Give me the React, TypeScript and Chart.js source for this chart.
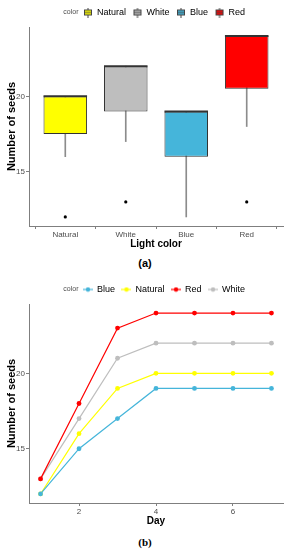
import React, { useEffect, useRef } from "react";
import { Chart, registerables } from "chart.js";
Chart.register(...registerables);

// ---------- data: panel (a) box plot ----------
const categories = ["Natural", "White", "Blue", "Red"];
const boxColors = ["#ffff00", "#bebebe", "#45b5da", "#ff0000"];
const q1 = [17.5, 19, 16, 20.5];
const medians = [20, 22, 19, 24];
const q3 = [20, 22, 19, 24];
const whiskerLow = [16, 17, 12, 18];
const whiskerHigh = [20, 22, 19, 24];
const outliers: (number | null)[] = [12, 13, null, 13];
const seedTicks = [15, 20];

// ---------- data: panel (b) line chart ----------
const days = [1, 2, 3, 4, 5, 6, 7];
const seriesNames = ["Blue", "Natural", "Red", "White"];
const blueSeeds = [12, 15, 17, 19, 19, 19, 19];
const naturalSeeds = [12, 16, 19, 20, 20, 20, 20];
const redSeeds = [13, 18, 23, 24, 24, 24, 24];
const whiteSeeds = [13, 17, 21, 22, 22, 22, 22];
const lineColors = ["#45b5da", "#ffff00", "#ff0000", "#bebebe"];
const dayTicks = [2, 4, 6];

const legendTitle = "color";
const FONT = "'Liberation Sans', Arial, sans-serif";

function boxIcon(fill: string) {
  const c = document.createElement("canvas");
  c.width = 10;
  c.height = 10;
  const x = c.getContext("2d")!;
  x.strokeStyle = "#444";
  x.lineWidth = 1;
  x.beginPath();
  x.moveTo(5, 0);
  x.lineTo(5, 10);
  x.stroke();
  x.fillStyle = fill;
  x.fillRect(1, 2, 8, 6);
  x.strokeRect(1.5, 2.5, 7, 5);
  x.beginPath();
  x.moveTo(1, 5);
  x.lineTo(9, 5);
  x.stroke();
  return c;
}

function lineIcon(col: string) {
  const c = document.createElement("canvas");
  c.width = 10;
  c.height = 6;
  const x = c.getContext("2d")!;
  x.strokeStyle = col;
  x.lineWidth = 1.2;
  x.beginPath();
  x.moveTo(0, 3);
  x.lineTo(10, 3);
  x.stroke();
  x.fillStyle = col;
  x.beginPath();
  x.arc(5, 3, 2.2, 0, Math.PI * 2);
  x.fill();
  return c;
}

function blankIcon() {
  const c = document.createElement("canvas");
  c.width = 1;
  c.height = 1;
  return c;
}

const colorLabelPlugin = {
  id: "colorLabel",
  afterDraw(chart: any) {
    const lg = chart.legend;
    if (!lg || !lg.legendHitBoxes || !lg.legendHitBoxes.length) return;
    const hb = lg.legendHitBoxes[0];
    const ctx = chart.ctx;
    ctx.save();
    ctx.font = `7px ${FONT}`;
    ctx.fillStyle = "#4d4d4d";
    ctx.textAlign = "right";
    ctx.textBaseline = "middle";
    ctx.fillText(legendTitle, hb.left + hb.width + 2, hb.top + hb.height / 2);
    ctx.restore();
  },
};

const medianPlugin = {
  id: "medianLine",
  afterDatasetsDraw(chart: any) {
    const meta = chart.getDatasetMeta(1);
    const y = chart.scales.y;
    const ctx = chart.ctx;
    ctx.save();
    ctx.strokeStyle = "#333";
    ctx.lineWidth = 2;
    meta.data.forEach((el: any, i: number) => {
      const py = y.getPixelForValue(medians[i]);
      ctx.beginPath();
      ctx.moveTo(el.x - el.width / 2, py);
      ctx.lineTo(el.x + el.width / 2, py);
      ctx.stroke();
    });
    ctx.restore();
  },
};

const axisColor = "#7f7f7f";
const tickFont = { family: FONT, size: 8 };

function commonY(title: string) {
  return {
    type: "linear",
    min: 11.4,
    max: 24.6,
    afterBuildTicks: (s: any) => {
      s.ticks = seedTicks.map((v) => ({ value: v }));
    },
    afterFit: (s: any) => {
      s.width = 29;
    },
    ticks: { font: tickFont, color: "#4d4d4d", padding: 1 },
    grid: { drawOnChartArea: false, tickLength: 3, color: axisColor },
    border: { display: true, color: axisColor, width: 1 },
    title: {
      display: true,
      text: title,
      color: "#000",
      font: { family: FONT, size: 11, weight: "bold" },
      padding: { top: 5, bottom: 0 },
    },
  };
}

// leading blank entry reserves the room where the "color" title is drawn
const leadText = "          ";

function legendOpts(items: () => any[]) {
  return {
    display: true,
    position: "top",
    labels: {
      usePointStyle: true,
      boxWidth: 9,
      boxHeight: 9,
      padding: 7,
      color: "#000",
      font: { family: FONT, size: 9 },
      generateLabels: items,
    },
    onClick: () => {},
  };
}

const blankEntry = () => ({
  text: leadText,
  pointStyle: blankIcon(),
  fillStyle: "transparent",
  strokeStyle: "transparent",
  lineWidth: 0,
  hidden: false,
});

function BoxChart() {
  const ref = useRef<HTMLCanvasElement>(null);
  useEffect(() => {
    const chart = new Chart(ref.current!, {
      type: "bar",
      data: {
        datasets: [
          {
            type: "line",
            label: "outliers",
            data: categories
              .map((_, i) => (outliers[i] == null ? null : { x: i + 1, y: outliers[i] }))
              .filter((d) => d !== null) as any,
            showLine: false,
            pointRadius: 1.6,
            pointBackgroundColor: "#000",
            pointBorderWidth: 0,
          },
          {
            label: "box",
            data: categories.map((_, i) => ({ x: i + 1, y: [q1[i], q3[i]] })) as any,
            backgroundColor: boxColors,
            borderColor: "#333",
            borderWidth: 1,
            borderSkipped: false,
            barPercentage: 0.72,
            categoryPercentage: 1,
            grouped: false,
          },
          {
            label: "whisker",
            data: categories.map((_, i) => ({ x: i + 1, y: [whiskerLow[i], whiskerHigh[i]] })) as any,
            backgroundColor: "#8c8c8c",
            barThickness: 1,
            grouped: false,
          },
        ],
      } as any,
      options: {
        animation: false,
        responsive: true,
        maintainAspectRatio: false,
        layout: { padding: { top: 1, right: 7, left: 0, bottom: 0 } },
        plugins: {
          tooltip: { enabled: false },
          legend: legendOpts(() => [
            blankEntry(),
            ...categories.map((c, i) => ({
              text: c,
              pointStyle: boxIcon(boxColors[i]),
              fillStyle: boxColors[i],
              strokeStyle: "#333",
              lineWidth: 0,
              hidden: false,
            })),
          ]) as any,
        },
        scales: {
          x: {
            type: "linear",
            min: 0.4,
            max: 4.6,
            offset: false,
            afterBuildTicks: (s: any) => {
              s.ticks = categories.map((_, i) => ({ value: i + 1 }));
            },
            afterFit: (s: any) => {
              s.height = 26;
            },
            ticks: {
              font: tickFont,
              color: "#4d4d4d",
              padding: 1,
              maxRotation: 0,
              autoSkip: false,
              callback: (v: any) => categories[Math.round(v) - 1],
            },
            grid: { drawOnChartArea: false, tickLength: 3, color: axisColor },
            border: { display: true, color: axisColor, width: 1 },
            title: {
              display: true,
              text: "Light color",
              color: "#000",
              font: { family: FONT, size: 10, weight: "bold" },
              padding: { top: 0, bottom: 2 },
            },
          },
          y: commonY("Number of seeds"),
        } as any,
      },
      plugins: [medianPlugin, colorLabelPlugin],
    });
    return () => chart.destroy();
  }, []);
  return <canvas ref={ref} />;
}

function LineChart() {
  const ref = useRef<HTMLCanvasElement>(null);
  useEffect(() => {
    const series = [blueSeeds, naturalSeeds, redSeeds, whiteSeeds];
    const chart = new Chart(ref.current!, {
      type: "line",
      data: {
        datasets: series.map((vals, i) => ({
          label: seriesNames[i],
          data: days.map((d, j) => ({ x: d, y: vals[j] })),
          borderColor: lineColors[i],
          backgroundColor: lineColors[i],
          borderWidth: 1.2,
          pointRadius: 2.4,
          pointBorderWidth: 0,
          pointBackgroundColor: lineColors[i],
          tension: 0,
        })),
      },
      options: {
        animation: false,
        responsive: true,
        maintainAspectRatio: false,
        layout: { padding: { top: 1, right: 7, left: 0, bottom: 0 } },
        plugins: {
          tooltip: { enabled: false },
          legend: legendOpts(() => [
            blankEntry(),
            ...seriesNames.map((c, i) => ({
              text: c,
              pointStyle: lineIcon(lineColors[i]),
              fillStyle: lineColors[i],
              strokeStyle: lineColors[i],
              lineWidth: 0,
              hidden: false,
            })),
          ]) as any,
        },
        scales: {
          x: {
            type: "linear",
            min: 0.7,
            max: 7.3,
            afterBuildTicks: (s: any) => {
              s.ticks = dayTicks.map((v) => ({ value: v }));
            },
            afterFit: (s: any) => {
              s.height = 26;
            },
            ticks: { font: tickFont, color: "#4d4d4d", padding: 1, maxRotation: 0 },
            grid: { drawOnChartArea: false, tickLength: 3, color: axisColor },
            border: { display: true, color: axisColor, width: 1 },
            title: {
              display: true,
              text: "Day",
              color: "#000",
              font: { family: FONT, size: 10, weight: "bold" },
              padding: { top: 0, bottom: 2 },
            },
          },
          y: commonY("Number of seeds"),
        } as any,
      },
      plugins: [colorLabelPlugin],
    });
    return () => chart.destroy();
  }, []);
  return <canvas ref={ref} />;
}

export default function App() {
  return (
    <div
      style={{
        position: "fixed",
        left: 0,
        top: 0,
        width: 290,
        height: 550,
        background: "#fff",
        fontFamily: FONT,
      }}
    >
      <div style={{ position: "absolute", left: 0, top: 0, width: 290, height: 252 }}>
        <BoxChart />
      </div>
      <div
        style={{
          position: "absolute",
          left: 0,
          top: 256,
          width: 290,
          textAlign: "center",
          fontSize: 11,
          fontWeight: "bold",
          lineHeight: "14px",
        }}
      >
        (a)
      </div>
      <div style={{ position: "absolute", left: 0, top: 277, width: 290, height: 252 }}>
        <LineChart />
      </div>
      <div
        style={{
          position: "absolute",
          left: 0,
          top: 535,
          width: 290,
          textAlign: "center",
          fontSize: 11,
          fontWeight: "bold",
          lineHeight: "14px",
          fontFamily: "'Liberation Serif', 'Times New Roman', serif",
        }}
      >
        (b)
      </div>
    </div>
  );
}
